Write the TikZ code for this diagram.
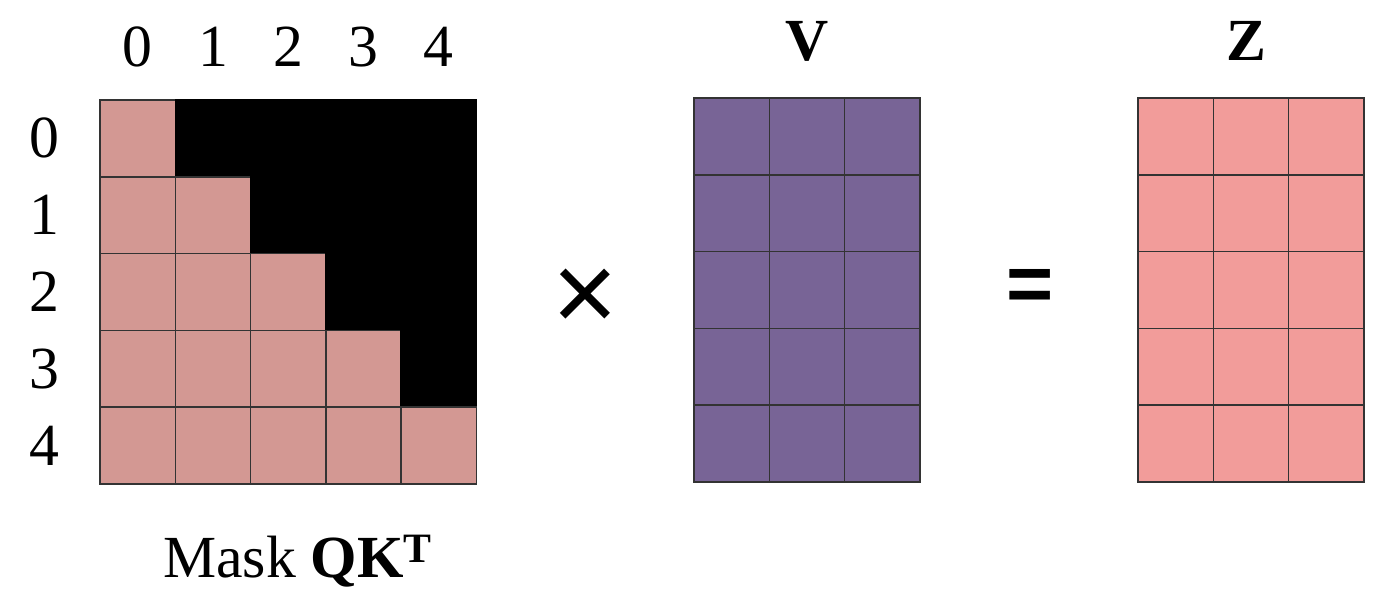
\documentclass[tikz,border=0pt]{standalone}
\usepackage{fontspec}
\setmainfont{Liberation Serif}
\newfontfamily\symfont{Liberation Sans}
\usetikzlibrary{positioning}

\begin{document}
\begin{tikzpicture}[x=0.02cm, y=-0.02cm]
  \newcommand\cellw{1.506cm}
  \newcommand\cellh{1.536cm}
  \newcommand\colspacing{0.64cm}
  \newcommand\rowspacing{0.8cm}
  \newcommand\titlespacing{0.72cm}
  \newcommand\lblfont{\fontsize{34}{40}\selectfont}

  \definecolor{maskpink}{HTML}{D39893}
  \definecolor{vpurple}{HTML}{786496}
  \definecolor{zpink}{HTML}{F29C9A}

  \tikzset{cell/.style={draw=black!80, line width=0.85pt, minimum width=\cellw, minimum height=\cellh, inner sep=0pt}}
  \tikzset{maskon/.style={cell, fill=maskpink}}
  \tikzset{maskoff/.style={cell, draw=black, fill=black}}
  \tikzset{vcell/.style={cell, fill=vpurple}}
  \tikzset{zcell/.style={cell, fill=zpink}}
  \tikzset{lbl/.style={inner sep=0pt, font=\lblfont}}
  \tikzset{title/.style={lbl, font=\lblfont\bfseries}}

  \useasboundingbox (0,0) rectangle (1394,604);

  % mask QK^T
  \foreach \i in {0,...,4}{
    \foreach \j in {0,...,4}{
      \ifnum\j>\i
        \node[maskoff] at (137.65+75.3*\j, 138.4+76.8*\i) (m-\i-\j) {};
      \else
        \node[maskon] at (137.65+75.3*\j, 138.4+76.8*\i) (m-\i-\j) {};
      \fi
    }
  }
  \foreach \k in {0,...,4}{
    \node[lbl, above=\colspacing of m-0-\k] (mcol\k) {\k};
    \node[lbl, left=\rowspacing of m-\k-0] (mrow\k) {\k};
  }
  \node[lbl, anchor=base] at (298, 578) (masklbl) {Mask \textbf{QK}\textsuperscript{\textbf{T}}};

  % V and Z
  \foreach \i in {0,...,4}{
    \foreach \j in {0,...,2}{
      \node[vcell] at (731.65+75.3*\j, 136.4+76.8*\i) (v-\i-\j) {};
      \node[zcell] at (1175.65+75.3*\j, 136.4+76.8*\i) (z-\i-\j) {};
    }
  }
  \node[title, above=\titlespacing of v-0-1] (vlbl) {V};
  \node[title, above=\titlespacing of z-0-1, xshift=-0.1cm] (zlbl) {Z};

  % operators
  \node[font=\symfont\fontsize{64}{70}\selectfont] at (585, 300) (times) {×};
  \node[font=\symfont\bfseries\fontsize{46}{50}\selectfont] at (1030, 290) (equals) {=};
\end{tikzpicture}
\end{document}
